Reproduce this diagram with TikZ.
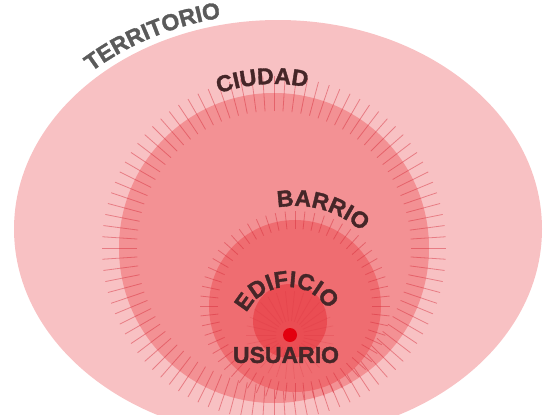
\documentclass[tikz,border=0pt]{standalone}
\usepackage{fontspec}
\setmainfont{Liberation Sans}
\newfontfamily\lblfam{Liberation Sans}[BoldFeatures={FakeBold=1.5}]
\usetikzlibrary{decorations.text}

\definecolor{terrfill}{HTML}{F8C1C3}
\definecolor{ciudfill}{HTML}{F39194}
\definecolor{barrfill}{HTML}{EF6D71}
\definecolor{edifill}{HTML}{EA4D53}
\definecolor{dotred}{HTML}{E3000F}
\definecolor{tickred}{HTML}{D42A38}
\definecolor{labgray}{HTML}{5A5A5A}
\definecolor{labdark}{HTML}{452628}

\newcommand{\lblfont}{\lblfam\fontsize{23}{23}\selectfont\bfseries}

\tikzset{
  lbl/.style 2 args={decorate,decoration={text along path,text align=center,
    text color=#1,text={|\lblfont|#2}}},
  tick/.style={draw=tickred,opacity=0.45,line width=0.8pt},
  spoke/.style={draw=tickred,opacity=0.2,line width=0.7pt}
}

\begin{document}
\begin{tikzpicture}[x=1pt,y=1pt]
  \useasboundingbox (0,0) rectangle (549,-415);
  \clip (0,0) rectangle (549,-415);
  \coordinate (terr) at (278,-229);
  \coordinate (ciud) at (274,-248);
  \coordinate (barr) at (295,-306);
  \coordinate (edif) at (290,-321);
  \coordinate (usr) at (290,-335);

  \fill[terrfill] (terr) ellipse (264 and 209);
  \fill[ciudfill] (ciud) circle (155);
  \foreach \a in {0,3.75,...,356.25}
    \draw[tick] ([shift={(\a:137)}]ciud) -- ([shift={(\a:172)}]ciud);
  \fill[barrfill] (barr) circle (86);
  \foreach \a in {0,6,...,354}
    \draw[tick] ([shift={(\a:77)}]barr) -- ([shift={(\a:95)}]barr);
  \fill[edifill] (edif) circle (37);
  \foreach \a in {0,12,...,348}
    \draw[spoke] ([shift={(\a:14)}]usr) -- ([shift={(\a:44)}]usr);
  \fill[dotred] (usr) circle (7);

  \path[lbl={labgray}{TERRITORIO}] ([shift={(140:272 and 216)}]terr) arc (140:96:272 and 216);
  \path[lbl={labdark}{CIUDAD}] ([shift={(114:164)}]ciud) arc (114:74:164);
  \path[lbl={labdark}{BARRIO}] ([shift={(104:100)}]barr) arc (104:44:100);
  \path[lbl={labdark}{EDIFICIO}] ([shift={(165:46)}]288,-333) arc (165:19:46);
  \node[text=labdark,font=\lblfam\fontsize{23}{23}\selectfont\bfseries,inner sep=0pt] (usuario) at (286,-355) {USUARIO};
\end{tikzpicture}
\end{document}
